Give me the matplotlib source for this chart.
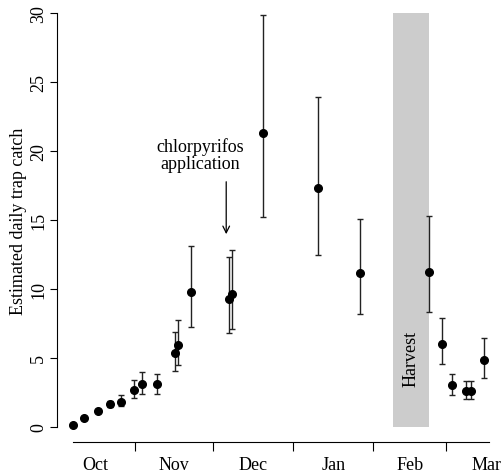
import matplotlib
matplotlib.use("Agg")
import matplotlib.pyplot as plt
from matplotlib.patches import Rectangle

plt.rcParams['font.family'] = ['Liberation Serif', 'DejaVu Serif']

# day 0 = 1 Oct
dia = [7.2, 11.4, 16.6, 21.4, 25.5, 30.6, 33.6, 39.5, 46.3, 47.7, 52.6,
       67.4, 68.4, 80.5, 101.6, 117.7, 144.6, 149.3, 153.4, 158.7, 160.5, 165.8]
captura = [0.17, 0.65, 1.16, 1.64, 1.84, 2.68, 3.09, 3.09, 5.34, 5.97, 9.78,
           9.25, 9.61, 21.33, 17.32, 11.18, 11.25, 6.04, 3.04, 2.63, 2.63, 4.86]
inferior = [0.17, 0.65, 1.16, 1.43, 1.50, 2.12, 2.39, 2.39, 4.03, 4.52, 7.22,
            6.81, 7.10, 15.20, 12.49, 8.21, 8.31, 4.54, 2.32, 2.03, 2.03, 3.57]
superior = [0.17, 0.65, 1.16, 1.91, 2.34, 3.43, 3.96, 3.86, 6.88, 7.78, 13.10,
            12.34, 12.85, 29.88, 23.93, 15.05, 15.27, 7.87, 3.84, 3.31, 3.31, 6.47]

meses = ["Oct", "Nov", "Dec", "Jan", "Feb", "Mar"]
inicio_mes = [0, 31, 61, 92, 123, 151, 182]
cosecha = (130.7, 144.6)

fs = 13

fig = plt.figure(figsize=(5.04, 4.77), dpi=100)
ax = fig.add_axes([57 / 504, 1 - 443 / 477, 1 - 57 / 504, 443 / 477])
ax.set_xlim(0.9, 173.4)
ax.set_ylim(-1.087, 31.01)

# Harvest
ax.add_patch(Rectangle((cosecha[0], 0), cosecha[1] - cosecha[0], 30,
                       facecolor="#cccccc", edgecolor="none", zorder=0))
ax.text((cosecha[0] + cosecha[1]) / 2, 5.0, "Harvest", rotation=90,
        ha="center", va="center", fontsize=fs)

err_lo = [c - l for c, l in zip(captura, inferior)]
err_hi = [s - c for c, s in zip(captura, superior)]
ax.errorbar(dia, captura, yerr=[err_lo, err_hi], fmt="o", color="black",
            ecolor="#222222", elinewidth=1, capsize=2.5, capthick=1,
            markersize=5.5, zorder=3)

# flecha de aplicación
ax.annotate("", xy=(66.2, 13.77), xytext=(66.2, 17.97),
            arrowprops=dict(arrowstyle="->", color="black", lw=0.9,
                            mutation_scale=12))
ax.text(56.3, 19.75, "chlorpyrifos\napplication", ha="center", va="center",
        fontsize=fs, linespacing=1.0)

for s in ["top", "right"]:
    ax.spines[s].set_visible(False)
ax.spines["left"].set_bounds(0, 30)
ax.spines["bottom"].set_bounds(7.1, 167.6)

ax.set_yticks([0, 5, 10, 15, 20, 25, 30])
ax.set_yticklabels(["0", "5", "10", "15", "20", "25", "30"], rotation=90,
                   va="center", fontsize=fs)
ax.tick_params(axis="y", length=5, pad=2)
ax.set_ylabel("Estimated daily trap catch", fontsize=fs, labelpad=2)

ax.set_xticks(inicio_mes[1:6])
ax.set_xticklabels([])
ax.tick_params(axis="x", length=6.5)
ax.set_xticks([(a + b) / 2 for a, b in zip(inicio_mes[:-1], inicio_mes[1:])],
              minor=True)
ax.set_xticklabels(meses, minor=True, fontsize=fs)
ax.tick_params(axis="x", which="minor", length=0, pad=10)

fig.savefig("out.png", dpi=100)
